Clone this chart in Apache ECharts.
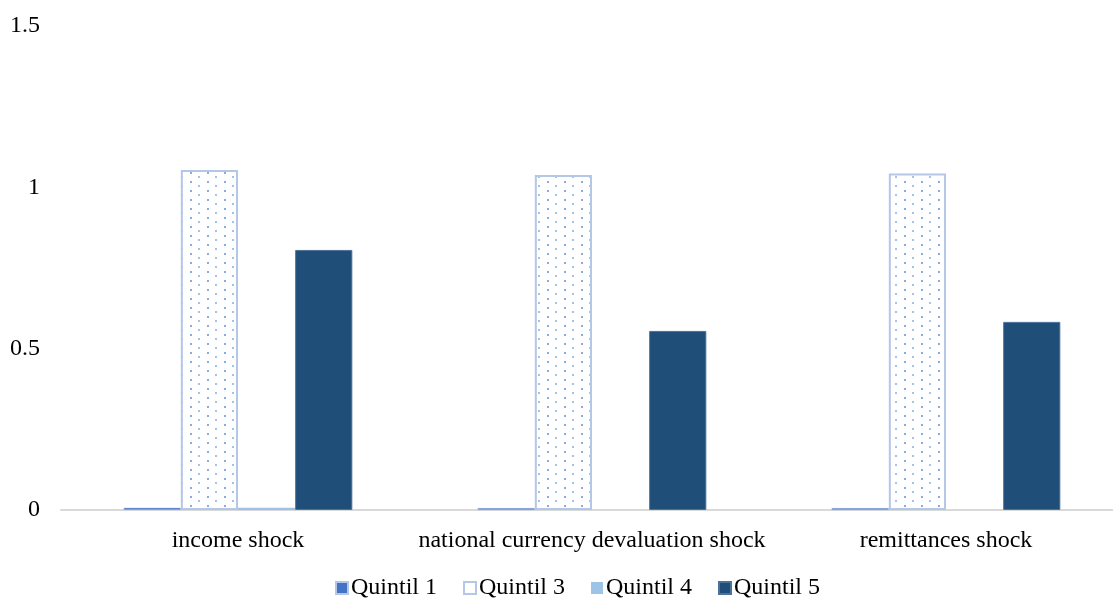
<!DOCTYPE html>
<html><head><meta charset="utf-8">
<script src="https://cdn.jsdelivr.net/npm/echarts@6/dist/echarts.min.js"></script>
<style>html,body{margin:0;padding:0;background:#fff;overflow:hidden}#c{width:1130px;height:600px}</style>
</head><body><div id="c"></div>
<script>
const categories = ['income shock', 'national currency devaluation shock', 'remittances shock'];
const quintil1 = [0.007, 0.006, 0.006];
const quintil3 = [1.054, 1.038, 1.043];
const quintil4 = [0.007, 0, 0];
const quintil5 = [0.806, 0.555, 0.583];
const yTicks = [0, 0.5, 1, 1.5];

const tile = document.createElement('canvas');
tile.width = 17; tile.height = 9;
const g = tile.getContext('2d');
g.fillStyle = '#fff'; g.fillRect(0, 0, 17, 9);
g.fillStyle = '#86addb';
g.fillRect(3, 1, 2, 2);
g.fillStyle = '#a3c3e8';
g.fillRect(11, 5, 2, 2);

const font = '"Liberation Serif", "Times New Roman", serif';
const chart = echarts.init(document.getElementById('c'));
chart.setOption({
  animation: false,
  textStyle: { fontFamily: font },
  grid: { left: 61, right: 7, top: 26, bottom: 90, containLabel: false },
  legend: {
    top: 571, left: 330, itemWidth: 12, itemHeight: 12, itemGap: 26,
    icon: 'rect',
    textStyle: { fontFamily: font, fontSize: 24, color: '#000', padding: [0, 0, 0, -2] },
    data: [
      { name: 'Quintil 1' },
      { name: 'Quintil 3', itemStyle: { color: '#fff', borderColor: '#b4c7e7', borderWidth: 2 } },
      { name: 'Quintil 4' },
      { name: 'Quintil 5' }
    ]
  },
  xAxis: {
    type: 'category', data: categories,
    axisLine: { lineStyle: { color: '#d9d9d9', width: 2 } },
    axisTick: { show: false },
    axisLabel: { fontFamily: font, fontSize: 24, color: '#000', margin: 19, interval: 0 }
  },
  yAxis: {
    type: 'value', min: 0, max: 1.5, interval: 0.5,
    axisLine: { show: false }, axisTick: { show: false },
    splitLine: { show: false },
    axisLabel: { fontFamily: font, fontSize: 24, color: '#000', margin: 21,
      formatter: v => String(yTicks.find(t => Math.abs(t - v) < 1e-9) ?? v) }
  },
  series: [
    { name: 'Quintil 1', type: 'bar', data: quintil1, barGap: '0%', barCategoryGap: '35.4%',
      itemStyle: { color: '#4472c4', borderColor: '#b4c7e7', borderWidth: 0.5 } },
    { name: 'Quintil 3', type: 'bar', data: quintil3,
      itemStyle: { color: { image: tile, repeat: 'repeat' }, borderColor: '#b4c7e7', borderWidth: 2 } },
    { name: 'Quintil 4', type: 'bar', data: quintil4,
      itemStyle: { color: '#9dc3e6' } },
    { name: 'Quintil 5', type: 'bar', data: quintil5,
      itemStyle: { color: '#1f4e79', borderColor: '#4d729a', borderWidth: 1 } }
  ]
});
</script></body></html>
